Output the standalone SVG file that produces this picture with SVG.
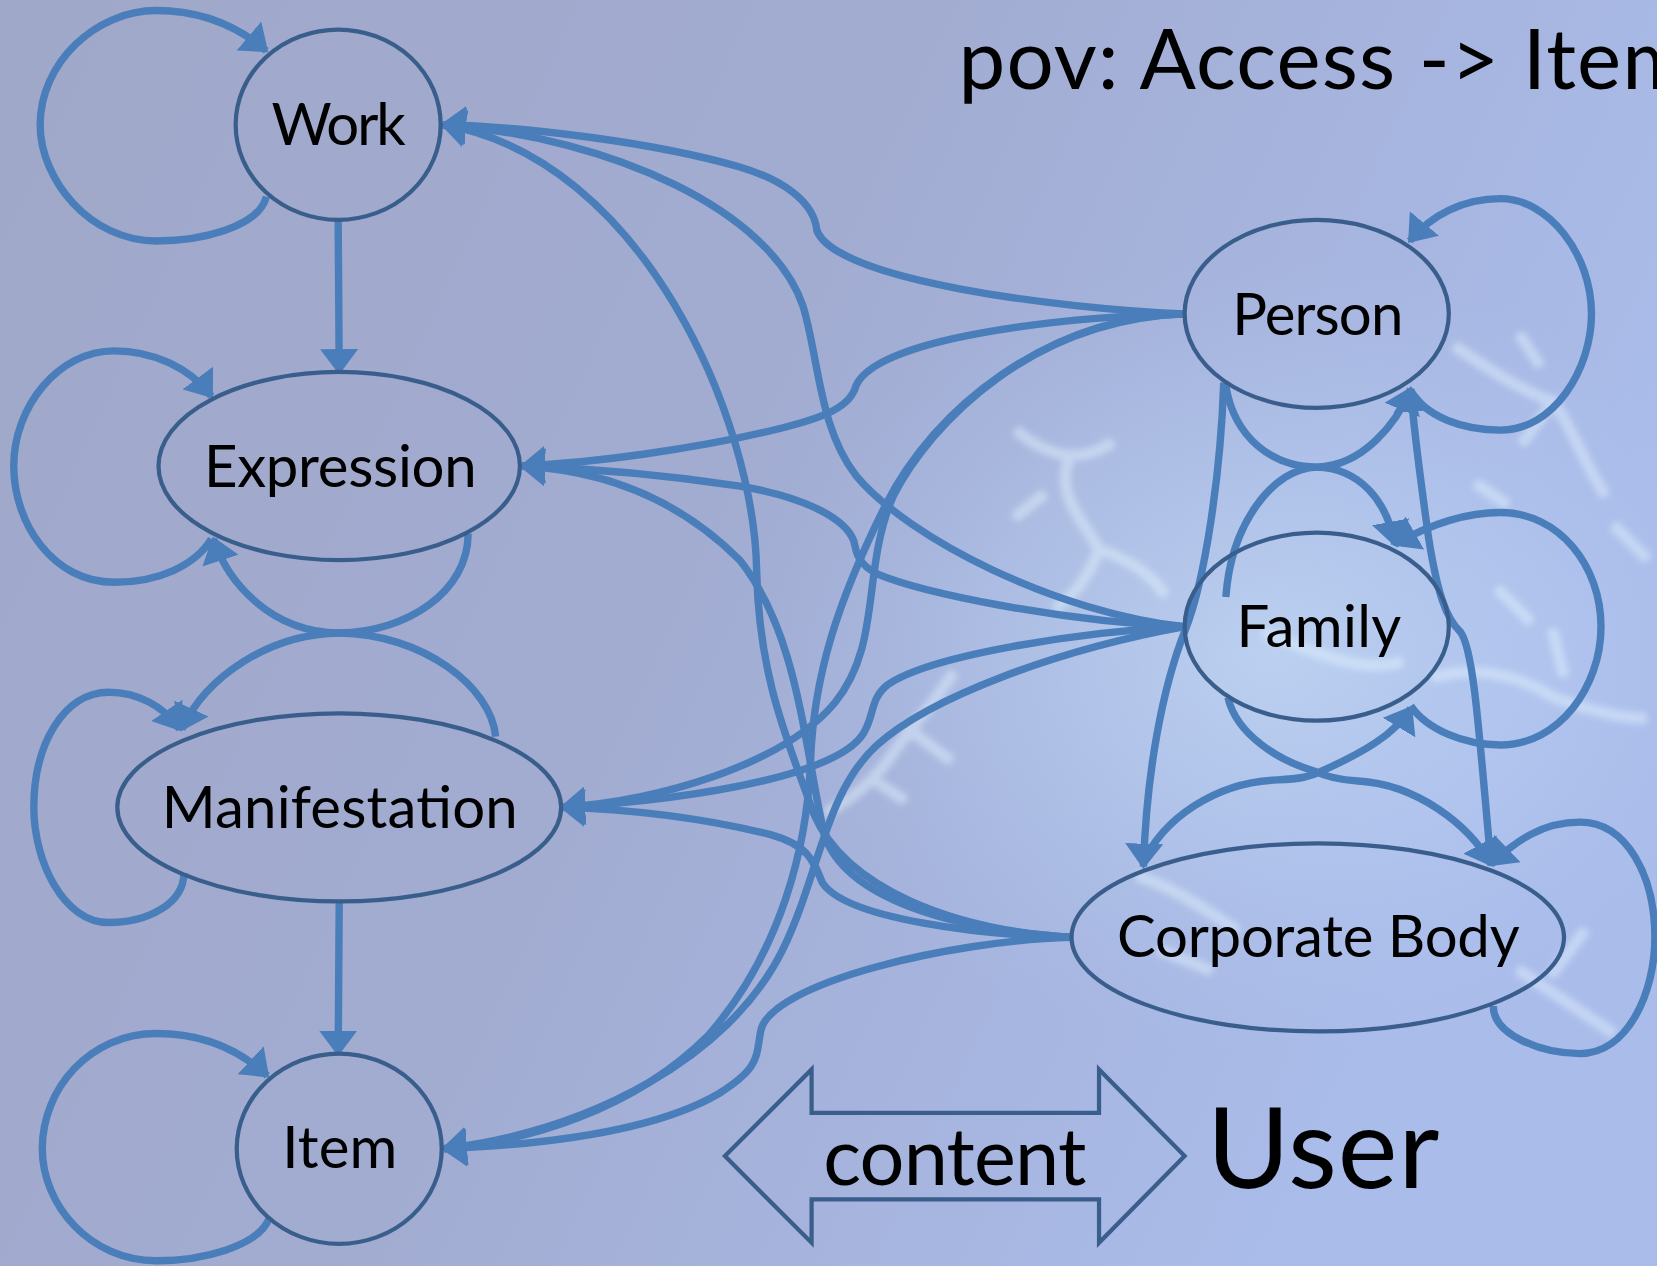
<svg xmlns="http://www.w3.org/2000/svg" width="1657" height="1266" viewBox="0 0 1657 1266">
<defs>
<linearGradient id="bg" x1="0" y1="0" x2="1" y2="0.35">
<stop offset="0" stop-color="#A0A8C9"/>
<stop offset="0.5" stop-color="#A2ACD1"/>
<stop offset="1" stop-color="#AABCEA"/>
</linearGradient>
<radialGradient id="glow" cx="0.5" cy="0.5" r="0.5">
<stop offset="0" stop-color="#D0EAFF" stop-opacity="0.5"/>
<stop offset="0.55" stop-color="#BFD8F8" stop-opacity="0.28"/>
<stop offset="1" stop-color="#B0C8F0" stop-opacity="0"/>
</radialGradient>
<filter id="soft" x="-20%" y="-20%" width="140%" height="140%"><feGaussianBlur stdDeviation="3"/></filter>
<marker id="ah" viewBox="0 0 10 10" refX="9" refY="5" markerWidth="24" markerHeight="36" markerUnits="userSpaceOnUse" orient="auto" preserveAspectRatio="none">
<path d="M0,0 L10,5 L0,10 z" fill="#4A7EBB"/>
</marker>
</defs>
<style>
.n{fill:none;stroke:#3A5E8C;stroke-width:4}
.c{fill:none;stroke:#4A7EBB;stroke-width:7}
.a{marker-end:url(#ah)}
.t{font-family:Lato,"Open Sans",sans-serif;fill:#000;text-anchor:middle;font-size:55px}
.fx{fill:none;stroke:#E6F6FF;stroke-width:12;stroke-linecap:round;stroke-dasharray:0.1 9;opacity:0.45;filter:url(#soft)}
</style>
<rect x="0" y="0" width="1657" height="1266" fill="url(#bg)"/>
<g transform="scale(1.05676)">
<g id="background-glow">
<ellipse cx="1200" cy="620" rx="480" ry="380" fill="url(#glow)"/>
<path class="fx" d="M965,410 C990,430 1020,440 1050,420 M1010,440 C1000,470 1030,500 1040,520 C1030,545 1020,560 1000,575 M1040,520 C1070,530 1090,545 1100,560 M985,470 L960,490 M1200,600 C1240,615 1290,640 1330,625 M900,640 C880,670 860,690 840,720 C820,745 800,760 780,770 M860,690 L900,720 M830,740 L860,760 M1380,330 C1410,350 1440,370 1470,380 C1490,410 1500,440 1520,470 M1440,320 L1460,350 M1470,380 L1440,420 M1400,460 L1430,480 M1360,640 C1400,630 1440,640 1470,660 C1500,670 1530,680 1560,680 M1470,600 L1480,640 M1440,920 C1470,940 1500,960 1530,980 M1470,920 L1500,880 M1080,830 C1110,840 1140,860 1170,880 M1100,900 L1150,920 M1530,500 L1560,530 M1420,560 L1450,590"/>
</g>
<g id="connectors">
<path class="c a" d="M252,186 C245,215 190,228 148,228 C85,228 38,170 38,118 C38,60 90,10 148,10 C190,10 225,25 252,48"/>
<path class="c a" d="M320,208 L321,352"/>
<path class="c a" d="M200,510 C185,535 150,551 108,551 C50,551 13,495 13,441 C13,385 55,332 108,332 C145,332 180,348 200,375"/>
<path class="c a" d="M443,505 C443,560 385,598 321,599 C255,600 195,640 172,690"/>
<path class="c a" d="M469,697 C465,650 400,600 321,599 C255,598 215,550 202,510"/>
<path class="c a" d="M174,826 C174,855 140,873 103,873 C60,873 32,815 32,764 C32,705 60,655 103,655 C130,655 155,668 170,690"/>
<path class="c a" d="M321,853 C321,900 320,950 320,997"/>
<path class="c a" d="M255,1152 C245,1180 190,1193 148,1193 C85,1193 40,1140 40,1087 C40,1030 85,978 148,978 C190,978 225,992 253,1018"/>
<path class="c a" d="M1121,297 C1000,292 790,265 773,218 C770,190 740,170 700,158 C620,135 500,120 419,118"/>
<path class="c a" d="M1121,297 C1000,300 830,320 810,365 C805,385 780,395 740,405 C660,425 560,438 494,441"/>
<path class="c a" d="M1121,297 C980,300 880,400 845,470 C815,540 835,610 790,665 C740,725 620,758 532,764"/>
<path class="c a" d="M1121,297 C990,302 885,385 838,478 C792,570 770,640 767,720 C764,800 740,900 670,980 C600,1050 500,1080 420,1087"/>
<path class="c a" d="M1121,593 C1000,580 860,510 810,450 C775,405 775,340 760,290 C730,200 580,130 419,118"/>
<path class="c a" d="M1121,593 C1000,588 870,560 830,543 C810,533 810,520 808,512 C800,490 760,470 700,460 C620,448 550,443 494,441"/>
<path class="c a" d="M1121,593 C1020,598 880,620 840,648 C822,662 828,680 815,697 C790,730 680,755 532,764"/>
<path class="c a" d="M1121,593 C1000,615 880,660 830,705 C780,750 775,830 740,900 C690,1000 560,1070 420,1087"/>
<path class="c a" d="M1014,887 C900,880 800,840 770,770 C745,700 718,640 716,540 C714,400 610,150 419,118"/>
<path class="c a" d="M1014,887 C900,880 800,850 780,790 C760,700 755,600 700,530 C640,470 570,445 494,441"/>
<path class="c a" d="M1014,887 C930,885 800,870 778,835 C770,815 765,800 730,790 C670,775 600,766 532,764"/>
<path class="c a" d="M1014,887 C900,890 730,930 720,975 C715,1000 720,1010 680,1035 C620,1070 520,1083 420,1087"/>
<path class="c a" d="M1158,362 C1155,450 1140,550 1122,595 C1100,650 1085,730 1082,820"/>
<path class="c a" d="M1411,818 C1400,700 1395,615 1382,598 C1368,585 1360,560 1352,510 C1345,460 1338,410 1335,368"/>
<path class="c a" d="M1160,365 C1168,415 1205,442 1246,442 C1285,443 1312,472 1320,515"/>
<path class="c a" d="M1160,565 C1165,495 1205,443 1246,442 C1290,441 1322,400 1335,368"/>
<path class="c a" d="M1162,660 C1170,695 1210,720 1245,730 C1255,735 1270,738 1285,739 C1340,742 1390,780 1411,818"/>
<path class="c a" d="M1081,818 C1100,775 1150,740 1209,738 C1230,737 1240,735 1250,730 C1290,712 1320,695 1335,670"/>
<path class="c a" d="M1335,370 C1350,395 1385,407 1420,407 C1470,407 1506,350 1506,297 C1506,240 1465,188 1420,188 C1385,188 1355,203 1334,228"/>
<path class="c a" d="M1335,668 C1350,690 1385,705 1420,705 C1475,705 1515,650 1515,593 C1515,535 1475,485 1420,485 C1385,485 1350,498 1320,515"/>
<path class="c a" d="M1413,952 C1413,980 1460,997 1495,997 C1540,997 1566,940 1566,887 C1566,830 1540,778 1495,778 C1460,778 1435,795 1411,818"/>
</g>
<g id="node-work"><ellipse class="n" cx="320" cy="118" rx="97" ry="90"/><text class="t" x="320.5" y="137" textLength="127">Work</text></g>
<g id="node-expression"><ellipse class="n" cx="321" cy="441" rx="171" ry="89"/><text class="t" x="322" y="461" textLength="258">Expression</text></g>
<g id="node-manifestation"><ellipse class="n" cx="321" cy="764" rx="210" ry="89"/><text class="t" x="321.5" y="784" textLength="337">Manifestation</text></g>
<g id="node-item"><ellipse class="n" cx="321" cy="1087" rx="97" ry="90"/><text class="t" x="321.5" y="1105" textLength="109">Item</text></g>
<g id="node-person"><ellipse class="n" cx="1246" cy="297" rx="125" ry="89"/><text class="t" x="1247" y="317" textLength="162">Person</text></g>
<g id="node-family"><ellipse class="n" cx="1246" cy="593" rx="125" ry="89"/><text class="t" x="1248" y="612" textLength="156">Family</text></g>
<g id="node-corporate-body"><ellipse class="n" cx="1247" cy="887" rx="233" ry="89"/><text class="t" x="1247.5" y="906" textLength="381">Corporate Body</text></g>
<g id="content-arrow">
<path class="n" d="M686,1094 L768,1012 L768,1053 L1040,1053 L1040,1012 L1121,1094 L1040,1176 L1040,1135 L768,1135 L768,1176 Z"/>
<text class="t" x="903.5" y="1121" textLength="249" style="font-size:75px">content</text>
</g>
<text class="t" x="1252" y="1124" style="font-size:107px" textLength="220">User</text>
<text x="907" y="84" style="font-family:Lato,'Open Sans',sans-serif;font-size:79px" fill="#000" textLength="693">pov: Access -&gt; Item</text>
</g>
</svg>
